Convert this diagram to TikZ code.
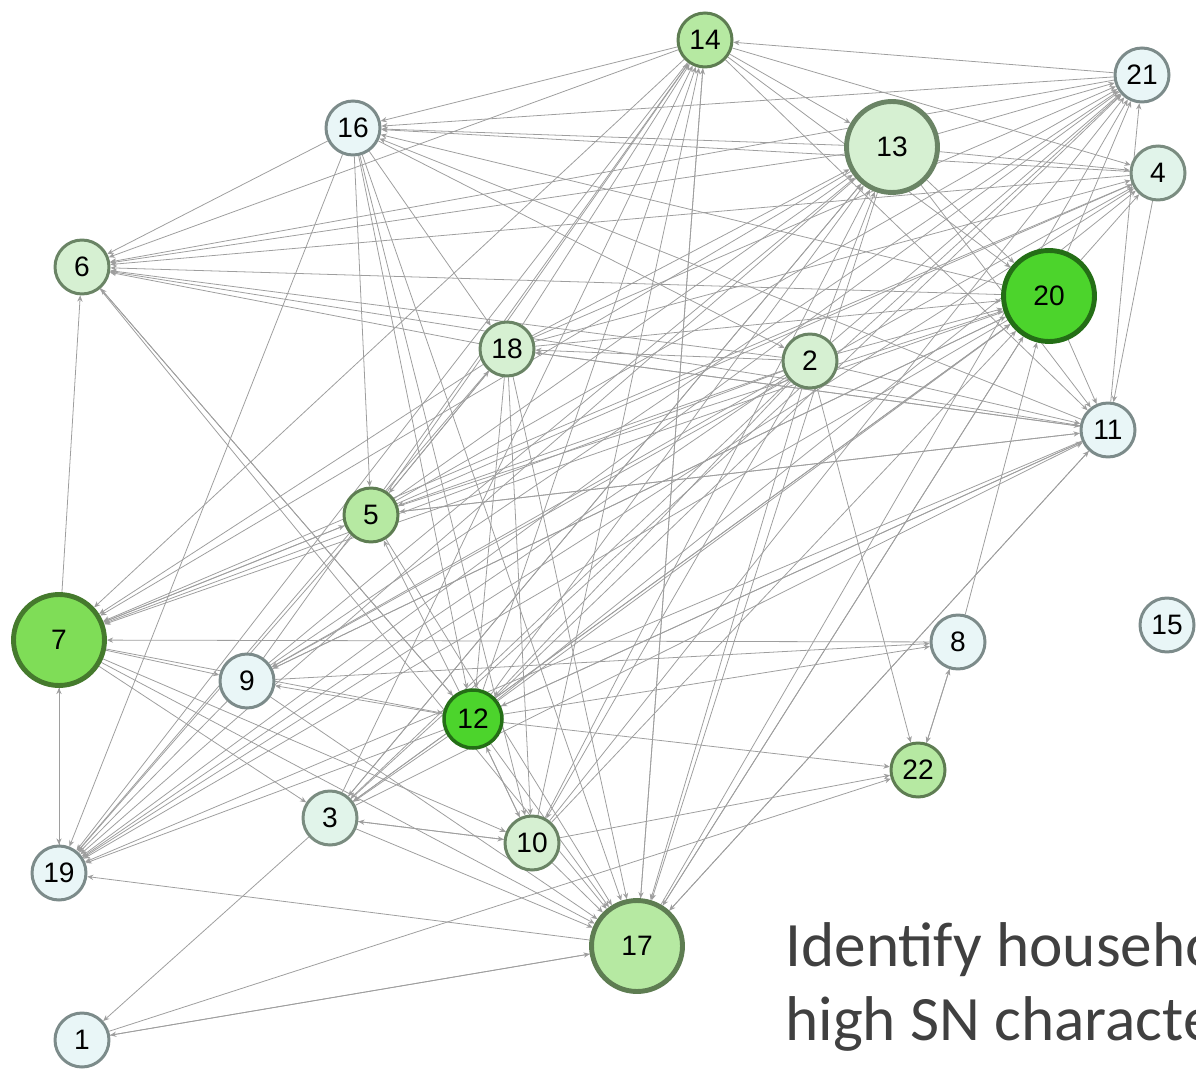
\documentclass[tikz,border=0pt]{standalone}
\usepackage{fontspec}
\setmainfont{Liberation Sans}
\newfontfamily\capfont{Carlito}
\usetikzlibrary{arrows.meta, backgrounds}

\definecolor{paleFill}{HTML}{E9F6F7}
\definecolor{paleLine}{HTML}{7C8B8A}
\definecolor{mintFill}{HTML}{E1F4EA}
\definecolor{mintLine}{HTML}{7A8C80}
\definecolor{leafFill}{HTML}{D6F0D2}
\definecolor{leafLine}{HTML}{6A8465}
\definecolor{limeFill}{HTML}{B6E9A2}
\definecolor{limeLine}{HTML}{5E7D52}
\definecolor{greenFill}{HTML}{7FDD57}
\definecolor{greenLine}{HTML}{457A2D}
\definecolor{vividFill}{HTML}{4CD42C}
\definecolor{vividLine}{HTML}{246E16}
\definecolor{edgeGray}{HTML}{9E9E9E}
\definecolor{capGray}{HTML}{404040}

\begin{document}
\begin{tikzpicture}[
  x=0.02cm, y=-0.02cm,
  hh/.style    = {circle, draw, line width=1.7pt, inner sep=0pt,
                  minimum size=1.08cm, font=\fontsize{16}{16}\selectfont},
  pale/.style  = {hh, fill=paleFill, draw=paleLine},
  mint/.style  = {hh, fill=mintFill, draw=mintLine},
  leaf/.style  = {hh, fill=leafFill, draw=leafLine},
  lime/.style  = {hh, fill=limeFill, draw=limeLine},
  green/.style = {hh, fill=greenFill, draw=greenLine},
  vivid/.style = {hh, fill=vividFill, draw=vividLine},
  big/.style   = {minimum size=1.82cm, line width=2.8pt},
  arr/.style   = {-{Stealth[length=3.5pt, width=3pt]}, draw=edgeGray,
                  line width=0.45pt},
  caption/.style = {anchor=base west, inner sep=0pt, text=capGray,
                  font=\capfont\fontsize{36}{36}\selectfont},
]
\useasboundingbox (0,0) rectangle (1196,1077);

\node[lime]       (h14) at (705,40)   {14};
\node[pale]       (h21) at (1142,75)  {21};
\node[pale]       (h16) at (353,128)  {16};
\node[leaf, big]  (h13) at (892,147)  {13};
\node[mint]       (h4)  at (1158,173) {4};
\node[leaf]       (h6)  at (82,267)   {6};
\node[vivid, big] (h20) at (1049,296) {20};
\node[leaf]       (h18) at (507,349)  {18};
\node[leaf]       (h2)  at (810,361)  {2};
\node[pale]       (h11) at (1108,430) {11};
\node[lime]       (h5)  at (371,515)  {5};
\node[green, big] (h7)  at (59,640)   {7};
\node[pale]       (h15) at (1167,625) {15};
\node[pale]       (h8)  at (958,642)  {8};
\node[pale]       (h9)  at (247,681)  {9};
\node[vivid, minimum size=1.16cm, line width=2pt] (h12) at (473,719) {12};
\node[lime]       (h22) at (918,770)  {22};
\node[mint]       (h3)  at (330,818)  {3};
\node[leaf]       (h10) at (532,843)  {10};
\node[pale]       (h19) at (59,873)   {19};
\node[lime, big]  (h17) at (637,946)  {17};
\node[pale]       (h1)  at (82,1040)  {1};

\node[caption] (line1) at (785,966)  {Identify househo};
\node[caption] (line2) at (785,1040) {high SN characte};

\begin{scope}[on background layer]
\draw[arr] (h7) -- (h6);
\draw[arr] (h7) -- (h19);
\draw[arr] (h19) -- (h7);
\draw[arr] (h8) -- (h7);
\draw[arr] (h7) -- (h9);
\draw[arr] (h7) -- (h3);
\draw[arr] (h7) -- (h10);
\draw[arr] (h7) -- (h17);
\draw[arr] (h7) -- (h12);
\draw[arr] (h5) -- (h7);
\draw[arr] (h7) -- (h5);
\draw[arr] (h18) -- (h7);
\draw[arr] (h2) -- (h7);
\draw[arr] (h20) -- (h7);
\draw[arr] (h14) -- (h7);
\draw[arr] (h13) -- (h7);
\draw[arr] (h4) -- (h7);

\draw[arr] (h16) -- (h19);
\draw[arr] (h9) -- (h19);
\draw[arr] (h5) -- (h19);
\draw[arr] (h18) -- (h19);
\draw[arr] (h14) -- (h19);
\draw[arr] (h13) -- (h19);
\draw[arr] (h2) -- (h19);
\draw[arr] (h20) -- (h19);
\draw[arr] (h11) -- (h19);
\draw[arr] (h12) -- (h19);
\draw[arr] (h17) -- (h19);
\draw[arr] (h21) -- (h19);

\draw[arr] (h16) -- (h6);
\draw[arr] (h14) -- (h6);
\draw[arr] (h13) -- (h6);
\draw[arr] (h21) -- (h6);
\draw[arr] (h4) -- (h6);
\draw[arr] (h20) -- (h6);
\draw[arr] (h2) -- (h6);
\draw[arr] (h11) -- (h6);
\draw[arr] (h18) -- (h6);
\draw[arr] (h12) -- (h6);
\draw[arr] (h6) -- (h12);
\draw[arr] (h6) -- (h17);

\draw[arr] (h14) -- (h16);
\draw[arr] (h21) -- (h16);
\draw[arr] (h13) -- (h16);
\draw[arr] (h4) -- (h16);
\draw[arr] (h20) -- (h16);
\draw[arr] (h11) -- (h16);
\draw[arr] (h16) -- (h2);
\draw[arr] (h16) -- (h5);
\draw[arr] (h16) -- (h12);
\draw[arr] (h16) -- (h17);
\draw[arr] (h16) -- (h18);
\draw[arr] (h16) -- (h10);

\draw[arr] (h9) -- (h14);
\draw[arr] (h5) -- (h14);
\draw[arr] (h18) -- (h14);
\draw[arr] (h12) -- (h14);
\draw[arr] (h3) -- (h14);
\draw[arr] (h10) -- (h14);
\draw[arr] (h17) -- (h14);
\draw[arr] (h21) -- (h14);
\draw[arr] (h14) -- (h13);
\draw[arr] (h14) -- (h4);
\draw[arr] (h14) -- (h11);
\draw[arr] (h14) -- (h20);

\draw[arr] (h13) -- (h21);
\draw[arr] (h18) -- (h21);
\draw[arr] (h2) -- (h21);
\draw[arr] (h5) -- (h21);
\draw[arr] (h12) -- (h21);
\draw[arr] (h9) -- (h21);
\draw[arr] (h3) -- (h21);
\draw[arr] (h10) -- (h21);
\draw[arr] (h20) -- (h21);
\draw[arr] (h11) -- (h21);
\draw[arr] (h17) -- (h21);

\draw[arr] (h13) -- (h4);
\draw[arr] (h5) -- (h4);
\draw[arr] (h9) -- (h4);
\draw[arr] (h12) -- (h4);
\draw[arr] (h20) -- (h4);
\draw[arr] (h18) -- (h4);
\draw[arr] (h19) -- (h4);
\draw[arr] (h4) -- (h11);

\draw[arr] (h9) -- (h20);
\draw[arr] (h12) -- (h20);
\draw[arr] (h3) -- (h20);
\draw[arr] (h10) -- (h20);
\draw[arr] (h17) -- (h20);
\draw[arr] (h2) -- (h20);
\draw[arr] (h18) -- (h20);
\draw[arr] (h8) -- (h20);
\draw[arr] (h5) -- (h20);
\draw[arr] (h13) -- (h20);
\draw[arr] (h20) -- (h11);

\draw[arr] (h12) -- (h13);
\draw[arr] (h5) -- (h13);
\draw[arr] (h9) -- (h13);
\draw[arr] (h3) -- (h13);
\draw[arr] (h10) -- (h13);
\draw[arr] (h18) -- (h13);
\draw[arr] (h2) -- (h13);
\draw[arr] (h13) -- (h11);
\draw[arr] (h13) -- (h17);

\draw[arr] (h18) -- (h11);
\draw[arr] (h2) -- (h11);
\draw[arr] (h5) -- (h11);
\draw[arr] (h12) -- (h11);
\draw[arr] (h3) -- (h11);
\draw[arr] (h17) -- (h11);

\draw[arr] (h2) -- (h22);
\draw[arr] (h2) -- (h17);
\draw[arr] (h2) -- (h5);
\draw[arr] (h2) -- (h18);
\draw[arr] (h2) -- (h12);
\draw[arr] (h2) -- (h3);
\draw[arr] (h2) -- (h9);
\draw[arr] (h2) -- (h10);

\draw[arr] (h11) -- (h5);
\draw[arr] (h12) -- (h5);
\draw[arr] (h5) -- (h18);
\draw[arr] (h18) -- (h5);
\draw[arr] (h5) -- (h17);

\draw[arr] (h11) -- (h18);
\draw[arr] (h18) -- (h12);
\draw[arr] (h18) -- (h17);
\draw[arr] (h18) -- (h10);

\draw[arr] (h11) -- (h12);
\draw[arr] (h12) -- (h9);
\draw[arr] (h12) -- (h10);
\draw[arr] (h10) -- (h12);
\draw[arr] (h12) -- (h3);
\draw[arr] (h12) -- (h17);
\draw[arr] (h12) -- (h22);
\draw[arr] (h12) -- (h8);

\draw[arr] (h10) -- (h3);
\draw[arr] (h3) -- (h10);
\draw[arr] (h3) -- (h1);
\draw[arr] (h20) -- (h3);
\draw[arr] (h13) -- (h3);
\draw[arr] (h3) -- (h17);

\draw[arr] (h9) -- (h8);
\draw[arr] (h9) -- (h17);
\draw[arr] (h20) -- (h9);

\draw[arr] (h10) -- (h17);
\draw[arr] (h10) -- (h22);
\draw[arr] (h17) -- (h1);
\draw[arr] (h1) -- (h17);
\draw[arr] (h1) -- (h22);
\draw[arr] (h8) -- (h22);
\draw[arr] (h22) -- (h8);
\draw[arr] (h11) -- (h17);
\draw[arr] (h20) -- (h17);
\draw[arr] (h14) -- (h17);
\end{scope}

\end{tikzpicture}
\end{document}
